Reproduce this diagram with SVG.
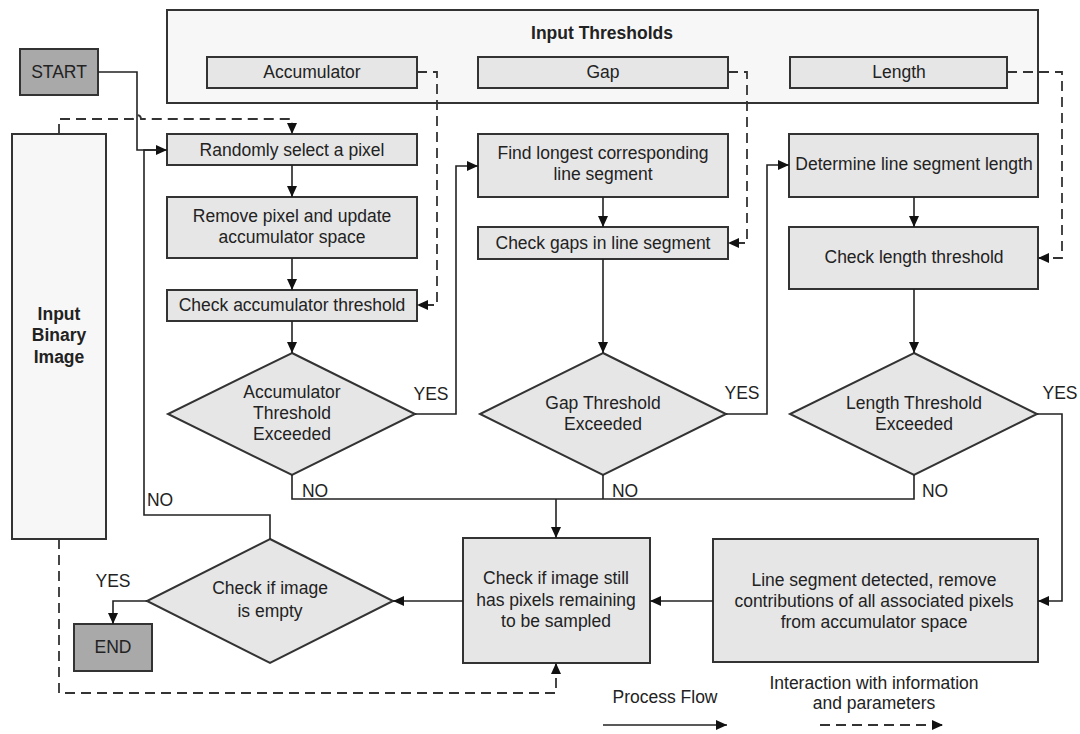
<svg xmlns="http://www.w3.org/2000/svg" width="1080" height="734" viewBox="0 0 1080 734">
<defs>
<marker id="ah" markerUnits="userSpaceOnUse" markerWidth="11" markerHeight="10" refX="11" refY="5" orient="auto">
<path d="M0,0 L11,5 L0,10 z" fill="#111"/>
</marker>
<style>
text{font-family:"Liberation Sans",Arial,sans-serif;font-size:17.5px;fill:#222;text-anchor:middle}
.b{font-weight:bold}
.box{fill:#e6e6e6;stroke:#333;stroke-width:2}
.light{fill:#f7f7f7;stroke:#333;stroke-width:2}
.dark{fill:#a9a9a9;stroke:#333;stroke-width:2}
.flow{fill:none;stroke:#222;stroke-width:1.6}
.dash{fill:none;stroke:#333;stroke-width:1.8;stroke-dasharray:10,6}
</style>
</defs>
<rect width="1080" height="734" fill="#ffffff"/>

<g id="input-thresholds">
<rect class="light" x="167" y="10" width="871" height="93"/>
<text class="b" x="602" y="39">Input Thresholds</text>
</g>
<g id="thr-accumulator"><rect class="box" x="207" y="57" width="210" height="31"/><text x="312" y="78">Accumulator</text></g>
<g id="thr-gap"><rect class="box" x="478" y="57" width="250" height="31"/><text x="603" y="78">Gap</text></g>
<g id="thr-length"><rect class="box" x="790" y="57" width="217" height="31"/><text x="899" y="78">Length</text></g>

<g id="start"><rect class="dark" x="20" y="49" width="78" height="46"/><text x="59" y="78">START</text></g>
<g id="input-binary-image"><rect class="light" x="12" y="134" width="94" height="405"/>
<text class="b" x="59" y="320">Input</text><text class="b" x="59" y="341">Binary</text><text class="b" x="59" y="363">Image</text></g>

<g id="random-pixel"><rect class="box" x="167" y="134" width="250" height="31"/><text x="292" y="156">Randomly select a pixel</text></g>
<g id="remove-pixel"><rect class="box" x="167" y="197" width="250" height="61"/><text x="292" y="222">Remove pixel and update</text><text x="292" y="243">accumulator space</text></g>
<g id="check-acc"><rect class="box" x="167" y="290" width="250" height="31"/><text x="292" y="311">Check accumulator threshold</text></g>
<g id="acc-diamond"><polygon class="box" points="292,353 415,414 292,475 168,414"/>
<text x="292" y="398">Accumulator</text><text x="292" y="419">Threshold</text><text x="292" y="440">Exceeded</text></g>

<g id="find-longest"><rect class="box" x="478" y="134" width="250" height="63"/><text x="603" y="159">Find longest corresponding</text><text x="603" y="180">line segment</text></g>
<g id="check-gaps"><rect class="box" x="478" y="227" width="250" height="32"/><text x="603" y="249">Check gaps in line segment</text></g>
<g id="gap-diamond"><polygon class="box" points="603,353 726,414 603,475 480,414"/>
<text x="603" y="409">Gap Threshold</text><text x="603" y="430">Exceeded</text></g>

<g id="determine-length"><rect class="box" x="789" y="134" width="249" height="63"/><text x="914" y="170">Determine line segment length</text></g>
<g id="check-length"><rect class="box" x="789" y="227" width="249" height="62"/><text x="914" y="263">Check length threshold</text></g>
<g id="length-diamond"><polygon class="box" points="914,353 1037,414 914,475 790,414"/>
<text x="914" y="409">Length Threshold</text><text x="914" y="430">Exceeded</text></g>

<g id="check-still"><rect class="box" x="463" y="538" width="187" height="125"/>
<text x="556" y="584">Check if image still</text><text x="556" y="606">has pixels remaining</text><text x="556" y="627">to be sampled</text></g>
<g id="segment-detected"><rect class="box" x="713" y="539" width="325" height="123"/>
<text x="874" y="586">Line segment detected, remove</text><text x="874" y="607">contributions of all associated pixels</text><text x="874" y="628">from accumulator space</text></g>
<g id="empty-diamond"><polygon class="box" points="270,539 393,601 270,663 147,601"/>
<text x="270" y="594">Check if image</text><text x="270" y="617">is empty</text></g>
<g id="end"><rect class="dark" x="74" y="624" width="78" height="47"/><text x="113" y="653">END</text></g>

<g id="connectors">
<path class="flow" d="M98,72 H137 V150 H167" marker-end="url(#ah)"/>
<path class="flow" d="M270,539 V515 H144 V150 H160"/>
<path class="flow" d="M292,165 V197" marker-end="url(#ah)"/>
<path class="flow" d="M292,258 V290" marker-end="url(#ah)"/>
<path class="flow" d="M292,321 V353" marker-end="url(#ah)"/>
<path class="flow" d="M415,414 H456 V166 H478" marker-end="url(#ah)"/>
<path class="flow" d="M603,197 V227" marker-end="url(#ah)"/>
<path class="flow" d="M603,259 V353" marker-end="url(#ah)"/>
<path class="flow" d="M726,414 H767 V165 H789" marker-end="url(#ah)"/>
<path class="flow" d="M914,197 V227" marker-end="url(#ah)"/>
<path class="flow" d="M914,289 V353" marker-end="url(#ah)"/>
<path class="flow" d="M1037,414 H1062 V601 H1038" marker-end="url(#ah)"/>
<path class="flow" d="M292,475 V499 H914 V475"/>
<path class="flow" d="M603,475 V499"/>
<path class="flow" d="M556,499 V538" stroke-width="2.4" marker-end="url(#ah)"/>
<path class="flow" d="M713,601 H650" marker-end="url(#ah)"/>
<path class="flow" d="M463,601 H393" marker-end="url(#ah)"/>
<path class="flow" d="M147,601 H113 V624" marker-end="url(#ah)"/>
<path class="dash" d="M417,72 H437 V305 H417" marker-end="url(#ah)"/>
<path class="dash" d="M728,72 H747 V243 H728" marker-end="url(#ah)"/>
<path class="dash" d="M1007,72 H1062 V258 H1038" marker-end="url(#ah)"/>
<path class="dash" d="M59,134 V119 H133 A4,4 0 0 1 141,119 H292 V134" marker-end="url(#ah)"/>
<path class="dash" d="M59,539 V693 H556 V663" marker-end="url(#ah)"/>
<text x="431" y="400">YES</text>
<text x="315" y="497">NO</text>
<text x="742" y="399">YES</text>
<text x="625" y="497">NO</text>
<text x="1060" y="399">YES</text>
<text x="935" y="497">NO</text>
<text x="160" y="506">NO</text>
<text x="113" y="587">YES</text>
</g>

<g id="legend">
<text x="665" y="703">Process Flow</text>
<path class="flow" d="M603,725 H727" stroke-width="2" marker-end="url(#ah)"/>
<text x="874" y="689">Interaction with information</text>
<text x="874" y="709">and parameters</text>
<path class="dash" d="M820,725 H943" stroke-dasharray="9,6" marker-end="url(#ah)"/>
</g>
</svg>
